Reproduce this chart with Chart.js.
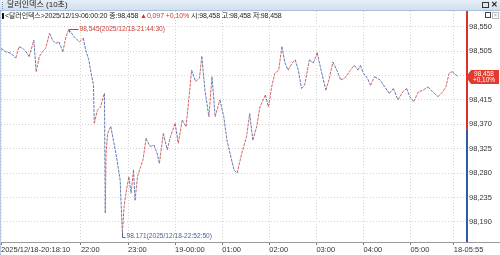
<!DOCTYPE html>
<html>
<head>
<meta charset="utf-8">
<script src="https://cdn.jsdelivr.net/npm/chart.js@4/dist/chart.umd.min.js"></script>
<style>
  html, body { margin: 0; padding: 0; background: #fff; }
  #wrap { position: relative; width: 500px; height: 255px; overflow: hidden; font-family: "Liberation Sans", "Noto Sans CJK KR", sans-serif; }
  #chart { position: absolute; left: 0; top: 0; }
  .titlebar { position: absolute; left: 0; top: 0; width: 500px; height: 10px; background: linear-gradient(#e6eef8, #d2dfee); border-bottom: 1px solid #aabfd8; font-size: 8px; line-height: 10px; color: #222; }
  .titlebar .grip { position: absolute; left: 2px; top: 2px; width: 1px; height: 7px; border-left: 1px dotted #7d93b3; }
  .titlebar .name { position: absolute; left: 7px; top: 0; }
  .titlebar .ico1 { position: absolute; left: 482px; top: 2px; width: 5px; height: 4px; border: 1px solid #333; }
  .titlebar .ico2 { position: absolute; left: 491px; top: 0; font-size: 8px; font-weight: bold; color: #222; }
  .info { position: absolute; left: 2px; top: 11px; font-size: 7px; line-height: 9px; color: #222; white-space: nowrap; letter-spacing: -0.1px; }
  .info .bar { display: inline-block; width: 2px; height: 6px; background: #111; margin-right: 1px; vertical-align: -0.5px; }
  .info .up { color: #d8322b; }
  .box1 { position: absolute; left: 485px; top: 12px; width: 4px; height: 4px; border: 1px solid #444; background: #fff; }
  .box2 { position: absolute; left: 492px; top: 12px; width: 5px; height: 5px; border: 1px solid #bbb; font-size: 6px; line-height: 5px; color: #999; text-align: center; }
  .frame { position: absolute; left: 0; top: 11px; width: 1px; height: 244px; background: #b9cbe0; }
</style>
</head>
<body>
<div id="wrap">
  <canvas id="chart" width="500" height="255"></canvas>
  <div class="frame"></div>
  <div class="titlebar"><span class="grip"></span><span class="name">달러인덱스 (10초)</span><span class="ico1"></span><span class="ico2">✕</span></div>
  <div class="info"><span class="bar"></span>&lt;달러인덱스&gt;2025/12/19-06:00:20 종:98,458 <span class="up">▲0,097 +0,10%</span> 시:98,458 고:98,458 저:98,458</div>
  <div class="box1"></div>
  <div class="box2">×</div>
</div>
<script>
// 10-second candles of the dollar index, traced as a close-price path
const baseDate = '2025/12/18';
const times = [
  '20:18:10', '20:24', '20:31', '20:37', '20:41', '20:46', '20:50', '20:54', '21:00', '21:03',
  '21:07', '21:11', '21:15', '21:20', '21:24', '21:28', '21:32', '21:37', '21:41', '21:44:30',
  '21:51', '21:58', '22:03', '22:06', '22:10', '22:13', '22:16', '22:17', '22:21', '22:25',
  '22:29', '22:30', '22:31', '22:32', '22:34', '22:38', '22:42', '22:46', '22:50', '22:51',
  '22:52:50', '22:55', '22:58', '23:01', '23:04', '23:07', '23:09', '23:12', '23:16', '23:19',
  '23:23', '23:28', '23:33', '23:37', '23:40', '23:45', '23:50', '23:54', '00:00', '00:04',
  '00:09', '00:14', '00:19', '00:21', '00:26', '00:31', '00:34', '00:38', '00:43', '00:47',
  '00:51', '00:57', '01:02', '01:06', '01:11', '01:15', '01:19', '01:25', '01:31', '01:35',
  '01:39', '01:44', '01:48', '01:55', '01:59', '02:03', '02:07', '02:12', '02:16', '02:20',
  '02:24', '02:29', '02:33', '02:37', '02:41', '02:45', '02:51', '02:56', '03:01', '03:05',
  '03:12', '03:16', '03:21', '03:26', '03:31', '03:36', '03:42', '03:48', '03:53', '03:56',
  '04:00', '04:05', '04:09', '04:14', '04:21', '04:27', '04:33', '04:38', '04:44', '04:50',
  '04:55', '04:59', '05:04', '05:10', '05:16', '05:22', '05:28', '05:35', '05:41', '05:45',
  '05:49', '05:53', '05:58', '06:00:20'
];
const prices = [
  98.510, 98.504, 98.501, 98.492, 98.513, 98.510, 98.504, 98.495, 98.525, 98.467,
  98.495, 98.504, 98.510, 98.538, 98.525, 98.519, 98.522, 98.504, 98.532, 98.545,
  98.532, 98.522, 98.529, 98.507, 98.489, 98.464, 98.442, 98.372, 98.396, 98.402,
  98.424, 98.427, 98.206, 98.317, 98.353, 98.366, 98.336, 98.304, 98.267, 98.230,
  98.171, 98.218, 98.249, 98.273, 98.243, 98.286, 98.230, 98.273, 98.292, 98.304,
  98.344, 98.329, 98.332, 98.317, 98.298, 98.353, 98.323, 98.347, 98.372, 98.335,
  98.378, 98.366, 98.439, 98.470, 98.449, 98.455, 98.495, 98.433, 98.384, 98.458,
  98.384, 98.415, 98.384, 98.341, 98.310, 98.286, 98.280, 98.317, 98.347, 98.390,
  98.341, 98.366, 98.402, 98.424, 98.402, 98.439, 98.464, 98.470, 98.513, 98.483,
  98.470, 98.483, 98.489, 98.470, 98.436, 98.442, 98.489, 98.483, 98.502, 98.476,
  98.433, 98.452, 98.485, 98.470, 98.452, 98.455, 98.467, 98.479, 98.470, 98.479,
  98.464, 98.455, 98.442, 98.458, 98.452, 98.439, 98.427, 98.436, 98.415, 98.430,
  98.436, 98.421, 98.412, 98.430, 98.433, 98.439, 98.430, 98.421, 98.430, 98.439,
  98.464, 98.467, 98.461, 98.458
];
const lastPrice = 98.458;
const change = 0.097;
const changePct = '+0,10%';

const tickTimes = ['20:18:10', '22:00', '23:00', '00:00', '01:00', '02:00', '03:00', '04:00', '05:00', '05:55'];
const tickLabels = ['2025/12/18-20:18:10', '22:00', '23:00', '19-00:00', '01:00', '02:00', '03:00', '04:00', '05:00', '18-05:55'];
const yTickValues = [98.190, 98.235, 98.280, 98.325, 98.370, 98.415, 98.460, 98.505, 98.550];
const xEnd = '06:10:36';
const yMin = 98.153, yMax = 98.579;

const RED = '#d8322b', BLUE = '#2f5aa6';
const UP = '#d06464', DOWN = '#5f78b2';

function toMin(t) {
  const p = t.split(':').map(Number);
  let h = p[0];
  if (h < 12) h += 24;
  return h * 60 + p[1] + (p[2] || 0) / 60;
}
const fmt = v => v.toFixed(3).replace('.', ',');

const points = times.map((t, i) => ({ x: toMin(t), y: prices[i] }));
const prevClose = lastPrice - change;

const overlay = {
  id: 'overlay',
  afterDatasetsDraw(chart) {
    const { ctx, chartArea: a, scales: { x, y } } = chart;
    ctx.save();

    // bottom line continues under the price axis
    ctx.strokeStyle = '#9a9a9a';
    ctx.lineWidth = 1;
    ctx.beginPath();
    ctx.moveTo(a.right, a.bottom + 0.5);
    ctx.lineTo(chart.width, a.bottom + 0.5);
    ctx.stroke();

    // price axis line: red above previous close, blue below
    const yp = y.getPixelForValue(prevClose);
    ctx.lineWidth = 2;
    ctx.strokeStyle = RED;
    ctx.beginPath(); ctx.moveTo(a.right + 1, a.top); ctx.lineTo(a.right + 1, yp); ctx.stroke();
    ctx.strokeStyle = BLUE;
    ctx.beginPath(); ctx.moveTo(a.right + 1, yp); ctx.lineTo(a.right + 1, a.bottom); ctx.stroke();

    // high / low markers
    let hi = 0, lo = 0;
    prices.forEach((p, i) => { if (p > prices[hi]) hi = i; if (p < prices[lo]) lo = i; });
    ctx.lineWidth = 1;
    ctx.font = '6.6px "Liberation Sans", sans-serif';
    ctx.textBaseline = 'middle';
    ctx.textAlign = 'left';

    let px = Math.round(x.getPixelForValue(points[hi].x)) + 0.5;
    let py = Math.round(y.getPixelForValue(points[hi].y)) + 0.5;
    ctx.strokeStyle = '#c8403a';
    ctx.fillStyle = '#c8403a';
    ctx.beginPath(); ctx.moveTo(px, py + 3); ctx.lineTo(px, py); ctx.lineTo(px + 9, py); ctx.stroke();
    ctx.fillText(fmt(prices[hi]) + '(' + baseDate + '-' + times[hi] + ')', px + 10, py);

    px = Math.round(x.getPixelForValue(points[lo].x)) + 0.5;
    py = Math.round(y.getPixelForValue(points[lo].y)) + 0.5;
    ctx.strokeStyle = '#4d6396';
    ctx.fillStyle = '#4d6396';
    ctx.beginPath(); ctx.moveTo(px, py); ctx.lineTo(px, py + 5); ctx.lineTo(px + 3, py + 5); ctx.stroke();
    ctx.fillText(prices[lo].toFixed(3) + '(' + baseDate + '-' + times[lo] + ')', px + 4, py + 4);

    // current price box
    const yc = Math.round(y.getPixelForValue(lastPrice));
    const bx = a.right;
    ctx.fillStyle = '#e23a2e';
    ctx.beginPath();
    ctx.moveTo(bx, yc);
    ctx.lineTo(bx + 5, yc - 7);
    ctx.lineTo(chart.width - 1, yc - 7);
    ctx.lineTo(chart.width - 1, yc + 7);
    ctx.lineTo(bx + 5, yc + 7);
    ctx.closePath();
    ctx.fill();
    ctx.fillStyle = '#fff';
    ctx.font = '6.5px "Liberation Sans", sans-serif';
    ctx.textAlign = 'center';
    ctx.fillText(fmt(lastPrice), bx + 18, yc - 3);
    ctx.fillText(changePct, bx + 18, yc + 3.5);
    ctx.restore();
  }
};

Chart.defaults.font.family = '"Liberation Sans", "Noto Sans CJK KR", sans-serif';
Chart.defaults.font.size = 7.5;
Chart.defaults.color = '#333';

new Chart(document.getElementById('chart'), {
  type: 'line',
  data: {
    datasets: [{
      data: points,
      borderWidth: 1,
      borderDash: [3, 1],
      pointRadius: 0,
      tension: 0,
      borderColor: UP,
      segment: {
        borderColor: c => (c.p1.parsed.y >= c.p0.parsed.y ? UP : DOWN)
      }
    }]
  },
  options: {
    responsive: false,
    animation: false,
    layout: { padding: { top: 11, left: 1, right: 0, bottom: 0 } },
    plugins: { legend: { display: false }, tooltip: { enabled: false } },
    scales: {
      x: {
        type: 'linear',
        min: toMin(tickTimes[0]),
        max: toMin(xEnd),
        afterBuildTicks: s => { s.ticks = tickTimes.map(t => ({ value: toMin(t) })); },
        afterFit: s => { s.height = 13; },
        ticks: {
          autoSkip: false,
          maxRotation: 0,
          align: 'start',
          padding: 0,
          callback: (v, i) => tickLabels[i]
        },
        grid: { color: '#d2d2d2', tickLength: 3, tickColor: '#777' },
        border: { display: true, color: '#9a9a9a', dash: [1, 2] }
      },
      y: {
        position: 'right',
        min: yMin,
        max: yMax,
        afterBuildTicks: s => { s.ticks = yTickValues.map(v => ({ value: v })); },
        afterFit: s => { s.width = 34; },
        ticks: {
          padding: 1,
          crossAlign: 'near',
          callback: v => fmt(v)
        },
        grid: { color: '#d2d2d2', tickLength: 2, tickColor: '#777' },
        border: { display: false, dash: [1, 2] }
      }
    }
  },
  plugins: [overlay]
});
</script>
</body>
</html>
